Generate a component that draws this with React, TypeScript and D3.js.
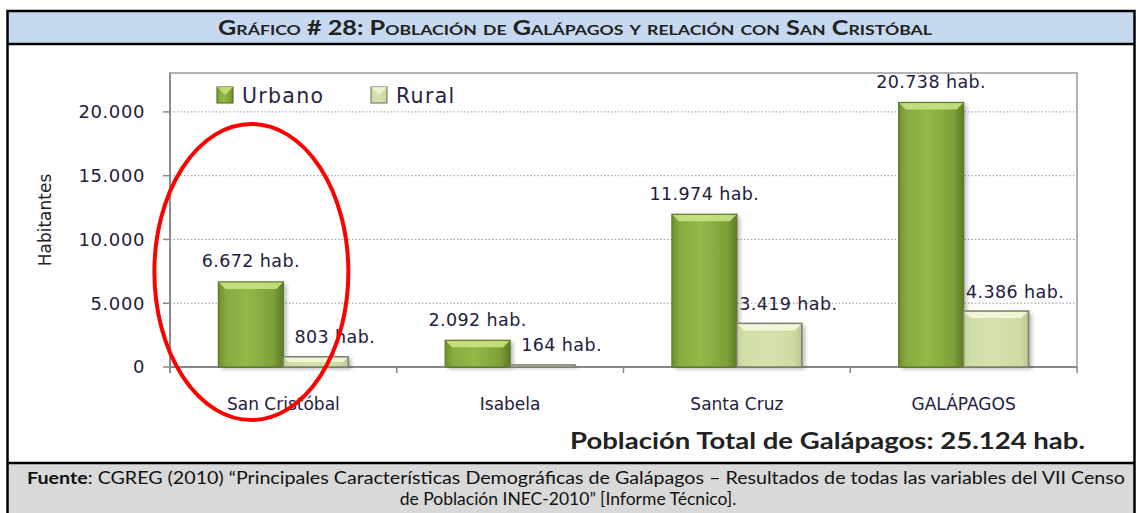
import React from 'react';
import * as d3 from 'd3';

const categories = ['San Cristóbal', 'Isabela', 'Santa Cruz', 'GALÁPAGOS'];
const series = ['Urbano', 'Rural'];
const urbano = [6672, 2092, 11974, 20738];
const rural = [803, 164, 3419, 4386];
const yTicks = [0, 5000, 10000, 15000, 20000];

const W = 1136;
const H = 513;
const plot = { left: 170, right: 1077, top: 73, bottom: 367 };

const fmt = (v: number) => d3.format(',')(v).replace(/,/g, '.');
const tickFmt = (v: number) => (v === 0 ? '0' : fmt(v));

const txt = '#1f2040';
const chartFont = 'Verdana, "DejaVu Sans", sans-serif';
const docFont = 'Lato, Carlito, "Open Sans", sans-serif';

const palette: Record<string, any> = {
  Urbano: { grad: 'gUrb', top: '#c9e283', stroke: '#5d7a25' },
  Rural: { grad: 'gRur', top: '#f3f8dc', stroke: '#7f8474' },
};

function Bar3D({ x, y, w, h, s }: { x: number; y: number; w: number; h: number; s: string }) {
  const p = palette[s];
  const b = Math.min(7, h / 2);
  return (
    <g>
      <rect x={x + 3} y={y + 2} width={w} height={h} fill="#000" opacity={0.28} filter="url(#shadow)" />
      <rect x={x} y={y} width={w} height={h} fill={`url(#${p.grad})`} />
      <polygon points={`${x},${y} ${x + w},${y} ${x + w - b},${y + b} ${x + b},${y + b}`} fill={p.top} opacity={0.9} />
      <rect x={x} y={y} width={w} height={h} fill="none" stroke={p.stroke} strokeWidth={s === 'Rural' ? 1.6 : 1.2} />
    </g>
  );
}

export default function App() {
  const x0 = d3.scaleBand<string>().domain(categories).range([plot.left, plot.right]).paddingInner(0.427).paddingOuter(0.2135);
  const x1 = d3.scaleBand<string>().domain(series).range([0, x0.bandwidth()]);
  const y = d3.scaleLinear().domain([0, 23050]).range([plot.bottom, plot.top]);
  const step = x0.step();
  const values: Record<string, number[]> = { Urbano: urbano, Rural: rural };

  const sc = x0(categories[0])! + x0.bandwidth() / 2;

  return (
    <svg width={W} height={H} style={{ position: 'absolute', left: 0, top: 0 }}>
      <defs>
        <linearGradient id="gUrb" x1="0" x2="1" y1="0" y2="0">
          <stop offset="0" stopColor="#6d8f2d" />
          <stop offset="0.12" stopColor="#87ab3f" />
          <stop offset="0.45" stopColor="#93b948" />
          <stop offset="0.85" stopColor="#7d9f37" />
          <stop offset="1" stopColor="#5e7b26" />
        </linearGradient>
        <linearGradient id="gRur" x1="0" x2="1" y1="0" y2="0">
          <stop offset="0" stopColor="#c3d497" />
          <stop offset="0.12" stopColor="#d0e0a8" />
          <stop offset="0.5" stopColor="#d4e3ad" />
          <stop offset="0.88" stopColor="#cbdba1" />
          <stop offset="1" stopColor="#b7c78d" />
        </linearGradient>
        <filter id="shadow" x="-20%" y="-20%" width="140%" height="140%">
          <feGaussianBlur stdDeviation="2" />
        </filter>
      </defs>

      <rect x={0} y={0} width={W} height={H} fill="#fff" />
      {/* title band and footer */}
      <rect x={7.5} y={11} width={1127} height={33} fill="#c6d9f1" />
      <rect x={7.5} y={463} width={1127} height={52} fill="#d9d9d9" />
      <rect x={7.5} y={11} width={1127} height={510} fill="none" stroke="#000" strokeWidth={2.5} />
      <line x1={7.5} x2={1134.5} y1={44} y2={44} stroke="#000" strokeWidth={2.5} />
      <line x1={7.5} x2={1134.5} y1={463} y2={463} stroke="#000" strokeWidth={2.5} />
      <text x={218} y={35} textLength={714} lengthAdjust="spacingAndGlyphs" fontFamily={docFont} fontWeight="bold" fontSize={20}
        style={{ fontVariant: 'small-caps' }} fill="#222">
        Gráfico # 28: Población  de Galápagos  y relación con San Cristóbal
      </text>

      {/* gridlines */}
      {yTicks.filter((t) => t > 0).map((t) => (
        <line key={t} x1={plot.left} x2={plot.right} y1={y(t)} y2={y(t)} stroke="#9a9a9a" strokeDasharray="1.5,2" />
      ))}
      <rect x={plot.left} y={plot.top} width={plot.right - plot.left} height={plot.bottom - plot.top} fill="none" stroke="#a0a0a0" strokeWidth={1.6} />

      {/* y axis */}
      {yTicks.map((t) => (
        <g key={t}>
          <line x1={plot.left - 7} x2={plot.left} y1={y(t)} y2={y(t)} stroke="#888" strokeWidth={1.5} />
          <text x={145} y={y(t)} dy="0.36em" textAnchor="end" fontFamily={chartFont} fontSize={18} letterSpacing={0.6} fill={txt}>{tickFmt(t)}</text>
        </g>
      ))}
      <line x1={plot.left} x2={plot.left} y1={plot.top} y2={plot.bottom + 6} stroke="#888" strokeWidth={1.8} />
      <text transform={`translate(51,220) rotate(-90)`} textAnchor="middle" fontFamily={chartFont} fontSize={17} fill="#222">Habitantes</text>

      {/* x axis */}
      <line x1={plot.left} x2={plot.right} y1={plot.bottom} y2={plot.bottom} stroke="#888" strokeWidth={1.8} />
      {d3.range(categories.length + 1).map((i) => (
        <line key={i} x1={plot.left + i * step} x2={plot.left + i * step} y1={plot.bottom} y2={plot.bottom + 6} stroke="#888" strokeWidth={1.5} />
      ))}
      {categories.map((c) => (
        <text key={c} x={x0(c)! + x0.bandwidth() / 2} y={410} textAnchor="middle" fontFamily={chartFont} fontSize={17} fill={txt}>{c}</text>
      ))}

      {/* bars */}
      {categories.map((c, i) => (
        <g key={c}>
          {series.map((s) => {
            const v = values[s][i];
            return <Bar3D key={s} s={s} x={x0(c)! + x1(s)!} y={y(v)} w={x1.bandwidth()} h={y(0) - y(v)} />;
          })}
        </g>
      ))}
      {categories.map((c, i) => (
        <g key={c + 'l'}>
          <text x={x0(c)! + x1('Urbano')! + x1.bandwidth() / 2} y={y(urbano[i]) - 14.5} textAnchor="middle" fontFamily={chartFont} fontSize={17.5} letterSpacing={0.4} fill={txt}>
            {fmt(urbano[i])} hab.
          </text>
          <text x={x0(c)! + x1('Rural')! + x1.bandwidth() / 2 + 19} y={y(rural[i]) - 13.5} textAnchor="middle" fontFamily={chartFont} fontSize={17.5} letterSpacing={0.4} fill={txt}>
            {fmt(rural[i])} hab.
          </text>
        </g>
      ))}

      {/* legend */}
      {series.map((s, i) => {
        const lx = 217 + i * 154;
        const p = palette[s];
        return (
          <g key={s}>
            <rect x={lx} y={87} width={16} height={16} fill={`url(#${p.grad})`} stroke={p.stroke} strokeWidth={1.2} />
            <polygon points={`${lx},87 ${lx + 16},87 ${lx + 8},95`} fill={p.top} opacity={0.8} />
            <text x={lx + 25} y={103} fontFamily={chartFont} fontSize={20.5} letterSpacing={1.3} fill="#2a1f45">{s}</text>
          </g>
        );
      })}

      {/* annotation */}
      <ellipse cx={sc - 32} cy={272} rx={97} ry={148} fill="none" stroke="#ff0000" strokeWidth={4} />

      <text x={570} y={449} textLength={515} lengthAdjust="spacingAndGlyphs" fontFamily={docFont} fontWeight="bold" fontSize={22} fill="#222">
        Población Total de Galápagos:  25.124 hab.
      </text>

      <text x={27} y={484} textLength={1098} lengthAdjust="spacingAndGlyphs" fontFamily={docFont} fontSize={17.5} fill="#111">
        <tspan fontWeight="bold">Fuente</tspan>: CGREG (2010) “Principales Características Demográficas de Galápagos – Resultados de todas las variables del VII Censo
      </text>
      <text x={568} y={505} textAnchor="middle" fontFamily={docFont} fontSize={17.5} fill="#111">
        de Población INEC-2010” [Informe Técnico].
      </text>
    </svg>
  );
}
